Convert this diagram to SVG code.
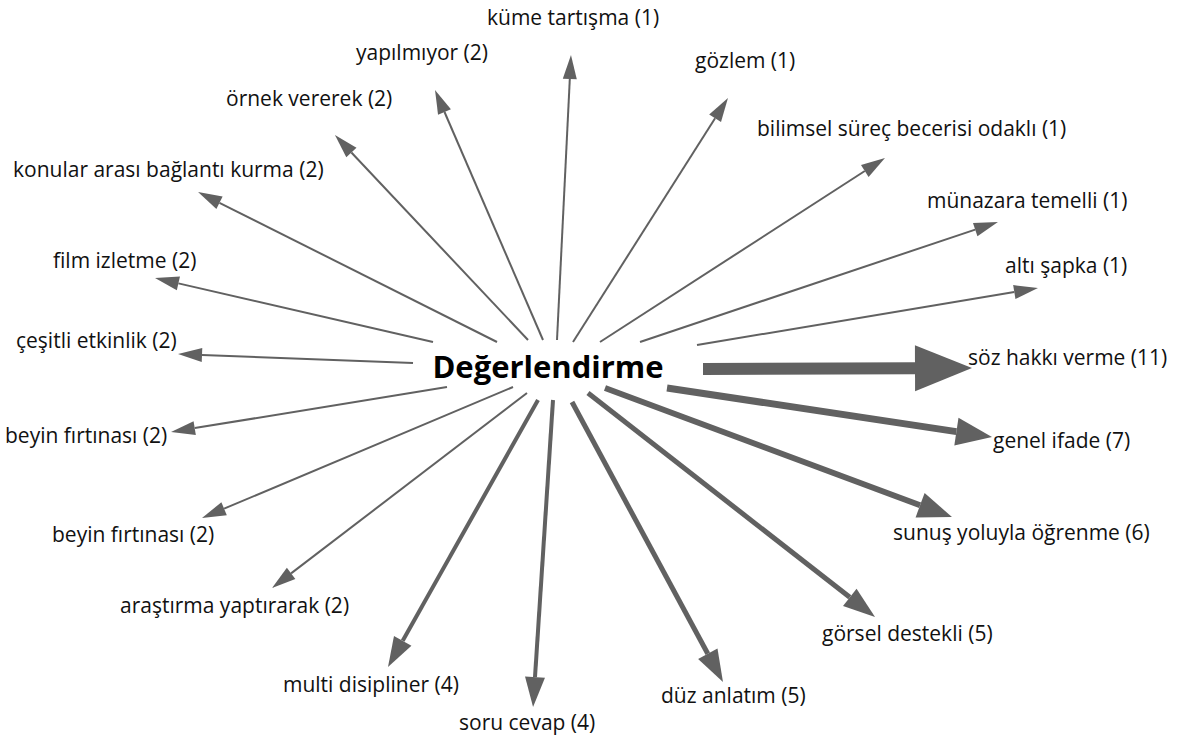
<svg xmlns="http://www.w3.org/2000/svg" width="1178" height="740" viewBox="0 0 1178 740">
<style>
.lbl{font-family:"Open Sans","Noto Sans","Liberation Sans",sans-serif;font-size:21px;fill:#111;}
.ctr{font-family:"Open Sans","Noto Sans","Liberation Sans",sans-serif;font-size:31px;font-weight:bold;fill:#000;}
.e{stroke:#616161;fill:none;}
.h{fill:#616161;}
</style>
<defs>
<marker id="m1" markerUnits="userSpaceOnUse" markerWidth="30" markerHeight="20" refX="0" refY="0" orient="auto" overflow="visible"><path class="h" d="M0,-7 L24,0 L0,7 Z"/></marker>
<marker id="m4" markerUnits="userSpaceOnUse" markerWidth="40" markerHeight="30" refX="0" refY="0" orient="auto" overflow="visible"><path class="h" d="M0,-10 L30,0 L0,10 Z"/></marker>
<marker id="m5" markerUnits="userSpaceOnUse" markerWidth="40" markerHeight="30" refX="0" refY="0" orient="auto" overflow="visible"><path class="h" d="M0,-11 L32,0 L0,11 Z"/></marker>
<marker id="m6" markerUnits="userSpaceOnUse" markerWidth="40" markerHeight="30" refX="0" refY="0" orient="auto" overflow="visible"><path class="h" d="M0,-13 L34,0 L0,13 Z"/></marker>
<marker id="m7" markerUnits="userSpaceOnUse" markerWidth="40" markerHeight="30" refX="0" refY="0" orient="auto" overflow="visible"><path class="h" d="M0,-14 L36,0 L0,14 Z"/></marker>
<marker id="m11" markerUnits="userSpaceOnUse" markerWidth="60" markerHeight="50" refX="0" refY="0" orient="auto" overflow="visible"><path class="h" d="M0,-23 L57,0 L0,23 Z"/></marker>
</defs>
<rect width="1178" height="740" fill="#fff"/>
<g id="connectors">
<path class="e" stroke-width="2" marker-end="url(#m1)" d="M557,340 L569.8,79"/>
<path class="e" stroke-width="2" marker-end="url(#m1)" d="M543,340 L444.5,112"/>
<path class="e" stroke-width="2" marker-end="url(#m1)" d="M528,340 L351.4,152.5"/>
<path class="e" stroke-width="2" marker-end="url(#m1)" d="M497,342 L219.5,202.8"/>
<path class="e" stroke-width="2" marker-end="url(#m1)" d="M433,342 L178.4,283.4"/>
<path class="e" stroke-width="2" marker-end="url(#m1)" d="M413,363 L202,354.9"/>
<path class="e" stroke-width="2" marker-end="url(#m1)" d="M447,387 L194.7,428.1"/>
<path class="e" stroke-width="2" marker-end="url(#m1)" d="M513,387 L224.1,508.7"/>
<path class="e" stroke-width="2" marker-end="url(#m1)" d="M527,393 L291.1,573.4"/>
<path class="e" stroke-width="4" marker-end="url(#m4)" d="M538,400 L402.7,640.8"/>
<path class="e" stroke-width="4" marker-end="url(#m4)" d="M553,400 L535,677.1"/>
<path class="e" stroke-width="5" marker-end="url(#m5)" d="M572,402 L707.8,653.8"/>
<path class="e" stroke-width="5" marker-end="url(#m5)" d="M588,393 L849.8,597.3"/>
<path class="e" stroke-width="6" marker-end="url(#m6)" d="M605,388 L920.1,505.2"/>
<path class="e" stroke-width="7" marker-end="url(#m7)" d="M667,388 L956.4,431.6"/>
<path class="e" stroke-width="12" marker-end="url(#m11)" d="M703,369 L915,368.2"/>
<path class="e" stroke-width="2" marker-end="url(#m1)" d="M697,345 L1014.3,292"/>
<path class="e" stroke-width="2" marker-end="url(#m1)" d="M640,342 L975.2,229.6"/>
<path class="e" stroke-width="2" marker-end="url(#m1)" d="M600,342 L864.8,171"/>
<path class="e" stroke-width="2" marker-end="url(#m1)" d="M573,342 L715.1,118.3"/>
</g>
<g id="n0"><text class="ctr" x="548" y="378" text-anchor="middle">Değerlendirme</text></g>
<g id="n1"><text class="lbl" x="487" y="25">küme tartışma (1)</text></g>
<g id="n2"><text class="lbl" x="356" y="60">yapılmıyor (2)</text></g>
<g id="n3"><text class="lbl" x="226" y="106">örnek vererek (2)</text></g>
<g id="n4"><text class="lbl" x="13" y="177">konular arası bağlantı kurma (2)</text></g>
<g id="n5"><text class="lbl" x="53" y="268">film izletme (2)</text></g>
<g id="n6"><text class="lbl" x="16" y="348">çeşitli etkinlik (2)</text></g>
<g id="n7"><text class="lbl" x="5" y="443">beyin fırtınası (2)</text></g>
<g id="n8"><text class="lbl" x="52" y="542">beyin fırtınası (2)</text></g>
<g id="n9"><text class="lbl" x="120" y="613">araştırma yaptırarak (2)</text></g>
<g id="n10"><text class="lbl" x="283" y="692">multi disipliner (4)</text></g>
<g id="n11"><text class="lbl" x="459" y="730">soru cevap (4)</text></g>
<g id="n12"><text class="lbl" x="661" y="703">düz anlatım (5)</text></g>
<g id="n13"><text class="lbl" x="822" y="641">görsel destekli (5)</text></g>
<g id="n14"><text class="lbl" x="893" y="540">sunuş yoluyla öğrenme (6)</text></g>
<g id="n15"><text class="lbl" x="993" y="448">genel ifade (7)</text></g>
<g id="n16"><text class="lbl" x="968" y="365">söz hakkı verme (11)</text></g>
<g id="n17"><text class="lbl" x="1005" y="273">altı şapka (1)</text></g>
<g id="n18"><text class="lbl" x="927" y="208">münazara temelli (1)</text></g>
<g id="n19"><text class="lbl" x="757" y="136">bilimsel süreç becerisi odaklı (1)</text></g>
<g id="n20"><text class="lbl" x="695" y="68">gözlem (1)</text></g>
</svg>
